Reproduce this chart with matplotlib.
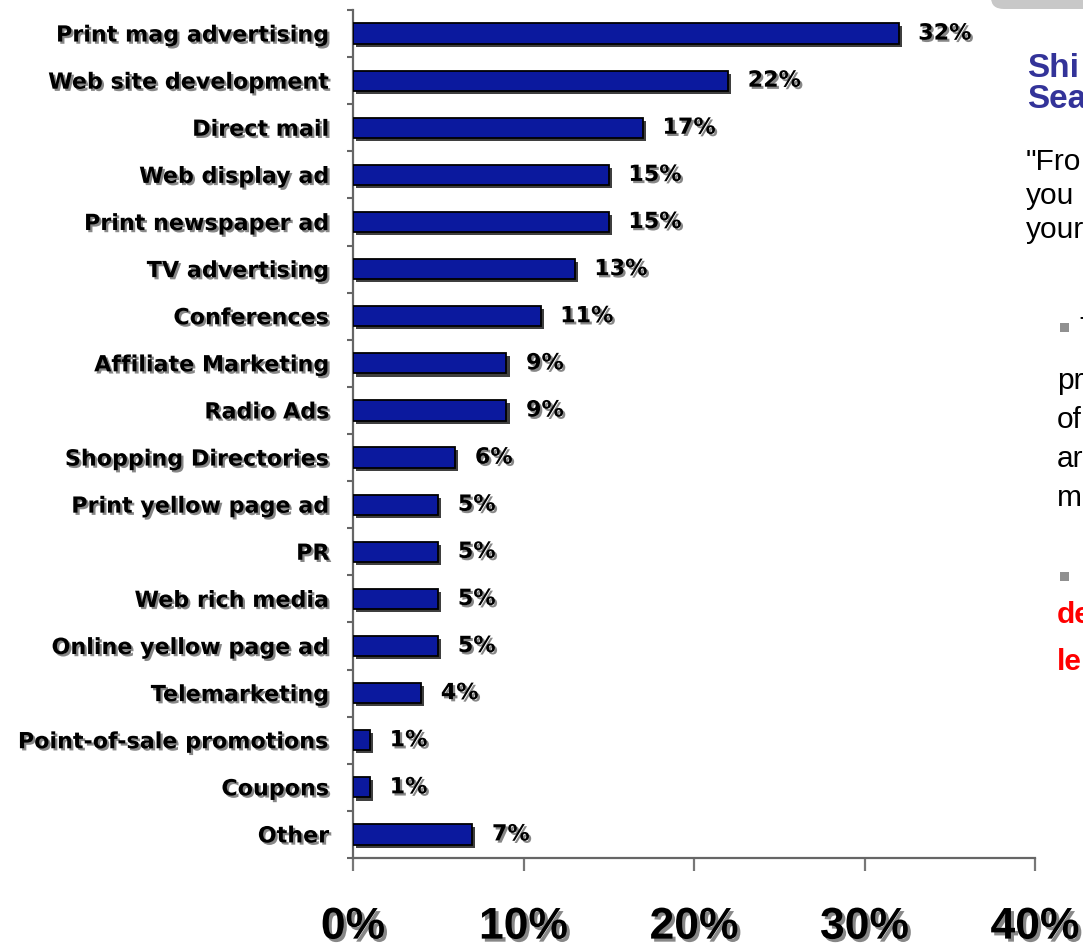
import matplotlib
matplotlib.use("Agg")
import matplotlib.pyplot as plt
import matplotlib.patheffects as pe
from matplotlib.patches import FancyBboxPatch, Rectangle

plt.rcParams['font.family'] = ['Liberation Sans', 'DejaVu Sans']

categories = [
    "Print mag advertising", "Web site development", "Direct mail",
    "Web display ad", "Print newspaper ad", "TV advertising", "Conferences",
    "Affiliate Marketing", "Radio Ads", "Shopping Directories",
    "Print yellow page ad", "PR", "Web rich media", "Online yellow page ad",
    "Telemarketing", "Point-of-sale promotions", "Coupons", "Other",
]
values = [32, 22, 17, 15, 15, 13, 11, 9, 9, 6, 5, 5, 5, 5, 4, 1, 1, 7]
x_ticks = [0, 10, 20, 30, 40]
x_tick_labels = ["0%", "10%", "20%", "30%", "40%"]

W, H = 1083, 952
fig = plt.figure(figsize=(W / 100, H / 100), dpi=100)


def fx(px):
    return px / W


def fy(py):
    return 1 - py / H


ax = fig.add_axes([fx(353), fy(858), fx(1035) - fx(353), fy(10) - fy(858)])

label_font = ['DejaVu Sans']
text_shadow = [pe.withSimplePatchShadow(offset=(1.6, -1.6), shadow_rgbFace='#7a7a7a', alpha=0.9)]
bar_shadow = [pe.withSimplePatchShadow(offset=(2.2, -2.2), shadow_rgbFace='#2a2a2a', alpha=0.9)]

ypos = list(range(len(categories)))
bars = ax.barh(ypos, values, height=0.43, color='#0B199E', edgecolor='black',
               linewidth=1.3, zorder=3)
for b in bars:
    b.set_path_effects(bar_shadow)

for y, v in zip(ypos, values):
    ax.text(v + 1.15, y, f"{v}%", va='center', ha='left', fontsize=16,
            family=label_font, fontweight='bold', color='black',
            path_effects=text_shadow)

ax.set_xlim(0, 40)
ax.set_ylim(len(categories) - 0.5, -0.5)

ax.set_yticks(ypos)
ax.set_yticklabels(categories, fontsize=16, fontweight='bold', family=label_font)
for lbl in ax.get_yticklabels():
    lbl.set_path_effects(text_shadow)
ax.tick_params(axis='y', which='major', length=0, pad=17)
ax.set_yticks([i - 0.5 for i in range(len(categories) + 1)], minor=True)
ax.tick_params(axis='y', which='minor', length=4, width=1.5, color='#666666',
               direction='out')

ax.set_xticks(x_ticks)
ax.set_xticklabels(x_tick_labels, fontsize=32, fontweight='bold')
for lbl in ax.get_xticklabels():
    lbl.set_path_effects([pe.withSimplePatchShadow(offset=(2.2, -2.2),
                                                   shadow_rgbFace='#7a7a7a', alpha=0.9)])
ax.tick_params(axis='x', length=9, width=1.6, color='#777777', pad=26)

for side in ('top', 'right'):
    ax.spines[side].set_visible(False)
for side in ('left', 'bottom'):
    ax.spines[side].set_color('#666666')
    ax.spines[side].set_linewidth(1.6)

# side panel of the slide
fig.patches.append(FancyBboxPatch((fx(991), fy(9)), fx(140), fy(-20) - fy(9),
                                  boxstyle="round,pad=0,rounding_size=0.012",
                                  transform=fig.transFigure, facecolor='#C8C8C8',
                                  edgecolor='none'))

blue = '#333399'
for py, s in [(77, "Shi"), (108, "Sea")]:
    fig.text(fx(1027), fy(py), s, fontsize=24, fontweight='bold', color=blue,
             va='baseline')
for py, s in [(170, '"Fro'), (204, "you"), (238, "your")]:
    fig.text(fx(1026), fy(py), s, fontsize=21.5, color='black', va='baseline')

for top in (323, 572):
    fig.patches.append(Rectangle((fx(1060), fy(top + 9)), fx(9), fy(0) - fy(9),
                                 transform=fig.transFigure, facecolor='#909090',
                                 edgecolor='none'))
fig.text(fx(1079), fy(337), "T", fontsize=21.5, color='black', va='baseline')
for py, s in [(389, "pr"), (428, "of"), (467, "ar"), (506, "m")]:
    fig.text(fx(1057), fy(py), s, fontsize=21.5, color='black', va='baseline')
for py, s in [(623, "de"), (670, "le")]:
    fig.text(fx(1057), fy(py), s, fontsize=21.5, fontweight='bold',
             color='#FF0000', va='baseline')

fig.savefig("out.png", dpi=100, facecolor='white')
